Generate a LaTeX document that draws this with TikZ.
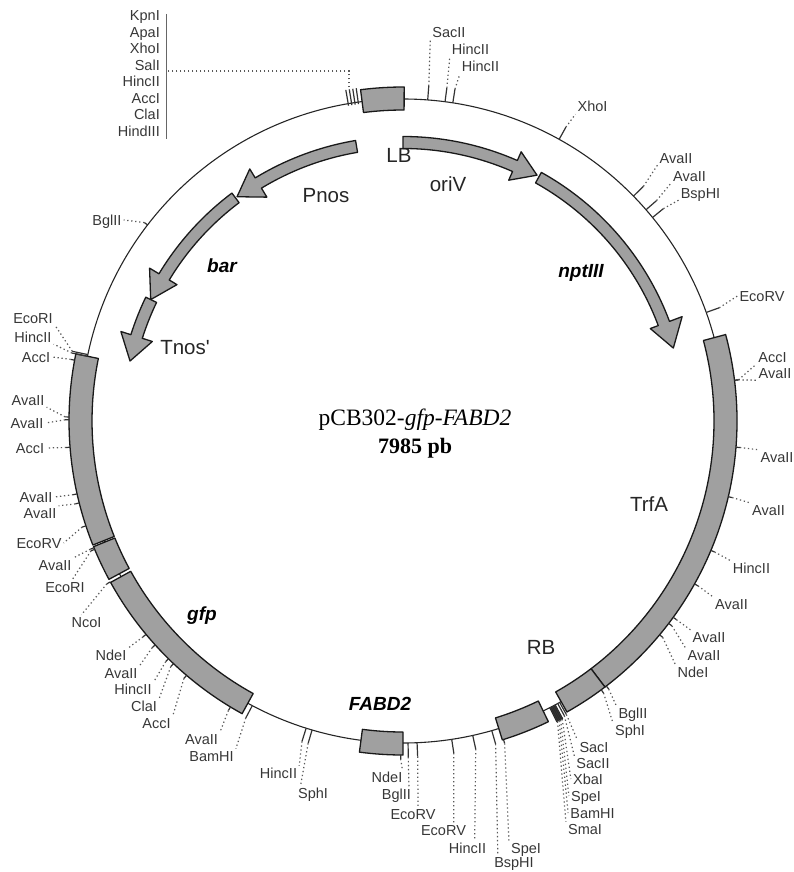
\documentclass[tikz,border=0pt]{standalone}
\usepackage{fontspec}
\setmainfont{Liberation Sans}
\newfontfamily\titlefont{Liberation Serif}
\newfontfamily\featfont{Liberation Sans}
\usetikzlibrary{calc}
\definecolor{genegray}{RGB}{160,160,160}
\definecolor{labelgray}{RGB}{55,55,55}

\begin{document}
\begin{tikzpicture}[
  x=1pt, y=-1pt,
  sitelab/.style={font=\fontsize{14.5}{16}\selectfont, text=labelgray, inner sep=2pt, text height=10pt, text depth=0pt},
  feat/.style={font=\fontsize{20.5}{22}\selectfont\featfont, text=black!85},
  genename/.style={font=\fontsize{19}{21}\selectfont\bfseries\itshape},
  gene/.style={draw=black!90, fill=genegray, line width=1.3pt, line join=round},
  tick/.style={draw=black!80, line width=1.2pt},
  dots/.style={draw=black!65, line width=1.2pt, dash pattern=on 1.3pt off 2.7pt}
]
\useasboundingbox (0,0) rectangle (794,872);
\coordinate (c) at (403,421);

% backbone
\draw[black!85, line width=1.1pt] (c) circle [radius=322];

% genes on the backbone
\foreach \s/\e in {262.7/270.2, 345/412.8, 412.8/420.6, 64.2/72.7, 90/97.5,
                   118.8/151.1, 151.7/157.9, 158.2/191.6} {
  \draw[gene] ($(c)+(\s:311)$) arc[start angle=\s, end angle=\e, radius=311]
    -- ($(c)+(\e:334)$) arc[start angle=\e, end angle=\s, radius=334] -- cycle;
}
\fill[black!85] ($(c)+(61.7:322)$) -- ($(c)+(61.7:338)$) -- ($(c)+(63:338)$) -- ($(c)+(63:322)$) -- cycle;

% LB goes under the arrow tail
\node[feat] (lb) at (399,155) {LB};

% inner arrows
\draw[gene] ($(c)+(260.4:284.5)$) arc[start angle=260.4, end angle=238.7, radius=284.5]
  -- ($(c)+(238.7:295)$) -- ($(c)+(233.5:279)$) -- ($(c)+(238.7:262)$)
  -- ($(c)+(238.7:272.5)$) arc[start angle=238.7, end angle=260.4, radius=272.5] -- cycle;
\draw[gene] ($(c)+(233.1:285)$) arc[start angle=233.1, end angle=211.1, radius=285]
  -- ($(c)+(211.1:296)$) -- ($(c)+(205.7:280)$) -- ($(c)+(211.1:264)$)
  -- ($(c)+(211.1:273)$) arc[start angle=211.1, end angle=233.1, radius=273] -- cycle;
\draw[gene] ($(c)+(205.7:285.5)$) arc[start angle=205.7, end angle=197.6, radius=285.5]
  -- ($(c)+(197.6:296)$) -- ($(c)+(192.4:279.5)$) -- ($(c)+(197.6:263)$)
  -- ($(c)+(197.6:273.5)$) arc[start angle=197.6, end angle=205.7, radius=273.5] -- cycle;
\draw[gene] ($(c)+(270:284.5)$) arc[start angle=270, end angle=293.7, radius=284.5]
  -- ($(c)+(293.7:294)$) -- ($(c)+(298.6:280)$) -- ($(c)+(293.7:263)$)
  -- ($(c)+(293.7:272.5)$) arc[start angle=293.7, end angle=270, radius=272.5] -- cycle;
\draw[gene] ($(c)+(299.1:284.5)$) arc[start angle=299.1, end angle=339.5, radius=284.5]
  -- ($(c)+(339.5:298)$) -- ($(c)+(344.9:280)$) -- ($(c)+(339.5:264)$)
  -- ($(c)+(339.5:272.5)$) arc[start angle=339.5, end angle=299.1, radius=272.5] -- cycle;

% feature names
\node[feat] (pnos) at (326,196) {Pnos};
\node[feat] (oriv) at (448,184) {oriV};
\node[feat] (tnos) at (185,348) {Tnos'};
\node[feat] (trfa) at (649,504) {TrfA};
\node[feat] (rb) at (541,647) {RB};
\node[genename] (bar) at (222,266) {bar};
\node[genename] (nptiii) at (581,273) {nptIII};
\node[genename] (gfp) at (202,616) {gfp};
\node[genename] (fabd) at (380,704) {FABD2};

% plasmid name
\node[font=\fontsize{23.5}{25}\selectfont\titlefont] (title) at (415,420) {pCB302-\textit{gfp-FABD2}};
\node[font=\fontsize{22}{24}\selectfont\titlefont\bfseries] (size) at (415,448) {7985 pb};

% polylinker
\foreach \txt [count=\i] in {KpnI,ApaI,XhoI,SalI,HincII,AccI,ClaI,HindIII} {
  \node[sitelab, anchor=east] (poly\i) at (162,{16.5*\i-0.5}) {\txt};
}
\coordinate (bartop) at (166.5,14);
\coordinate (barbot) at (166.5,139);
\coordinate (barsal) at (166.5,71);
\draw[black!60, line width=1.4pt] (bartop) -- (barbot);
\foreach \a in {260.2,260.8,261.4,262} {
  \draw[tick] ($(c)+(\a:320)$) -- ($(c)+(\a:336)$);
}
\coordinate (saltick) at ($(c)+(260.8:338)$);
\draw[dots] (saltick) |- (barsal);

% restriction sites: angle/from/to/label x/label y/where the dots end/name
\foreach \a/\rin/\rout/\lx/\ly/\anc/\txt [count=\i] in {
  274.4/322/336/449/33/south west/SacII,
  277.5/322/336/470.5/50/south west/HincII,
  278.9/322/336/480.5/67/south west/HincII,
  299/322/336/592.5/107/south west/XhoI,
  315.7/322/336/676/158/south west/AvaII,
  319/322/336/689.5/176/south west/AvaII,
  320.8/322/336/700.5/193/south west/BspHI,
  340.3/322/336/762/296/west/EcoRV,
  353/334/338/772.5/357/south west/AccI,
  353/334/338/775/373/south west/AvaII,
  4.5/334/338/777/457/north west/AvaII,
  13.1/334/338/768.5/510/north west/AvaII,
  22.8/334/338/751.5/568/north west/HincII,
  29.2/334/338/731.5/604/north west/AvaII,
  36/334/338/709/637/north west/AvaII,
  37.3/334/338/704/655/north west/AvaII,
  39.8/334/338/693/672/north west/NdeI,
  52.5/334/338/633/713/north west/BglII,
  53.6/334/338/630/730/north west/SphI,
  60.9/322/336/594/747/north west/SacI,
  61.3/322/336/593/763/north west/SacII,
  61.9/322/338/588/779/west/XbaI,
  62.2/322/338/586/796/west/SpeI,
  62.5/322/338/592.5/813/west/BamHI,
  62.8/322/338/585/829/north west/SmaI,
  72.5/334/338/526/848/north west/SpeI,
  74/322/336/514/862/156/BspHI,
  77.5/322/336/467.5/848/45/HincII,
  81.3/322/336/443.5/830/35/EcoRV,
  87.5/322/336/413/814/55/EcoRV,
  89.1/322/336/396.5/794/30/BglII,
  90.4/334/338/387/777/25/NdeI,
  106.4/322/336/313/793/150/SphI,
  107.5/322/336/278.5/773/north east/HincII,
  117.9/322/336/211.5/756/north east/BamHI,
  121.1/334/338/201.5/739/north east/AvaII,
  130.4/334/338/156.5/723/north east/AccI,
  133.4/334/338/144/706/north east/ClaI,
  134.6/334/338/133/689/north east/HincII,
  137.9/334/338/121/673/north east/AvaII,
  140.3/334/338/111/655/north east/NdeI,
  151.2/334/338/86.5/622/125/NcoI,
  157.4/334/338/65/587/45/EcoRI,
  157.7/334/338/55/565/north east/AvaII,
  161.7/334/338/39/543/east/EcoRV,
  165.8/334/338/40/513/north east/AvaII,
  167.4/334/338/36/497/east/AvaII,
  175.5/334/338/30/448/east/AccI,
  180.2/334/338/27/423/east/AvaII,
  180.7/334/338/28/400/south east/AvaII,
  190.5/334/338/36/357/east/AccI,
  191.6/322/338/33/337/south east/HincII,
  191.9/322/338/33/318/south east/EcoRI,
  217.5/322/326/107/220/east/BglII} {
  \node[sitelab] (site\i) at (\lx,\ly) {\txt};
  \coordinate (foot\i) at ($(c)+(\a:\rin)$);
  \coordinate (tip\i) at ($(c)+(\a:\rout)$);
  \draw[tick] (foot\i) -- (tip\i);
  \draw[dots] (tip\i) -- (site\i.\anc);
}
\end{tikzpicture}
\end{document}
